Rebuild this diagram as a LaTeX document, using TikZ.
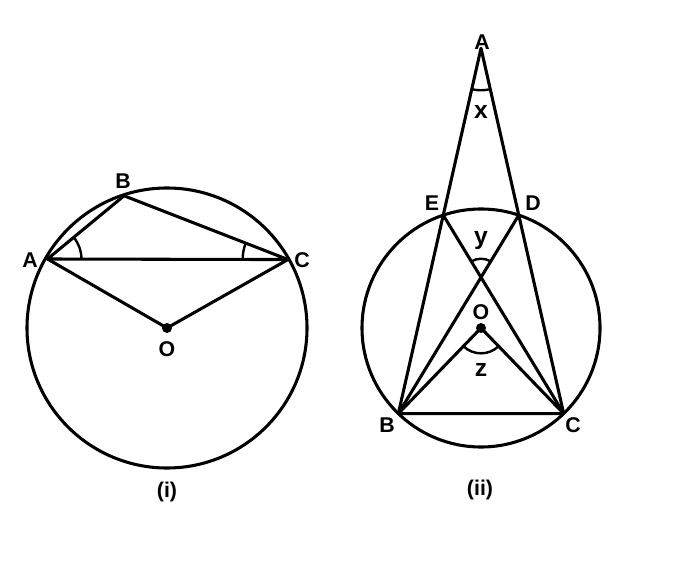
\documentclass[tikz,border=0pt]{standalone}
\usepackage{fontspec}
\setmainfont{Liberation Sans}
\usetikzlibrary{angles,calc}
\tikzset{
  geo/.style={line width=2.3pt, line join=round, line cap=round},
  lbl/.style={font=\fontsize{16}{18}\selectfont\bfseries, inner sep=0pt},
  sml/.style={font=\fontsize{18.5}{20}\selectfont\bfseries, inner sep=0pt},
  angarc/.style={draw, line width=1.8pt},
  dot/.style={fill=black}
}
\begin{document}
\begin{tikzpicture}[x=0.75pt,y=0.75pt]
\useasboundingbox (0,0) rectangle (680,564);
% ---------- figure (i) ----------
\coordinate (O1) at (167,236);
\coordinate (A1) at ($(O1)+(150:138)$);
\coordinate (B1) at ($(O1)+(108:139)$);
\coordinate (C1) at ($(O1)+(29.5:139)$);
\draw[geo] (O1) circle[radius=140];
\draw[geo] (A1) -- (B1) -- (C1) -- cycle;
\draw[geo] (A1) -- (O1) -- (C1);
\fill[dot] (O1) circle[radius=5];
\pic[angarc, angle radius=25.5pt] {angle = C1--A1--B1};
\pic[angarc, angle radius=34pt] {angle = B1--C1--A1};
\node[lbl] (lA1) at (30,304) {A};
\node[lbl] (lB1) at (123,383) {B};
\node[lbl] (lC1) at (302,304) {C};
\node[lbl] (lO1) at (167,215) {O};
\node[lbl] (li) at (167,72) {(i)};
% ---------- figure (ii) ----------
\coordinate (O2) at (481,236);
\coordinate (E2) at ($(O2)+(108.5:119)$);
\coordinate (D2) at ($(O2)+(71.5:119)$);
\coordinate (B2) at ($(O2)+(226:119)$);
\coordinate (C2) at ($(O2)+(314:119)$);
\coordinate (A2) at (intersection of B2--E2 and C2--D2);
\coordinate (P2) at (intersection of E2--C2 and D2--B2);
\draw[geo] (O2) circle[radius=119];
\draw[geo] (A2) -- (B2) -- (C2) -- cycle;
\draw[geo] (E2) -- (C2);
\draw[geo] (D2) -- (B2);
\draw[geo] (B2) -- (O2) -- (C2);
\fill[dot] (O2) circle[radius=5];
\pic[angarc, angle radius=31.5pt] {angle = B2--A2--C2};
\pic[angarc, angle radius=14pt] {angle = D2--P2--E2};
\pic[angarc, angle radius=19pt] {angle = B2--O2--C2};
\node[lbl] (lA2) at (482,522) {A};
\node[sml] (lx) at (481,452) {x};
\node[lbl] (lE2) at (432,361) {E};
\node[lbl] (lD2) at (533,361) {D};
\node[sml] (ly) at (481,323) {y};
\node[lbl] (lO2) at (481,252) {O};
\node[sml] (lz) at (481,194) {z};
\node[lbl] (lB2) at (387,139) {B};
\node[lbl] (lC2) at (573,139) {C};
\node[lbl] (lii) at (480,74) {(ii)};
\end{tikzpicture}
\end{document}
